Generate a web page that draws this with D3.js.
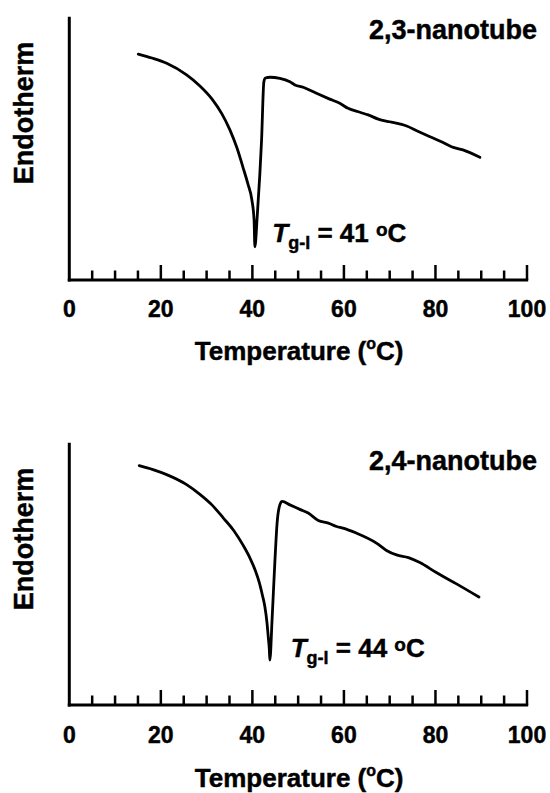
<!DOCTYPE html>
<html>
<head>
<meta charset="utf-8">
<script src="https://cdn.jsdelivr.net/npm/d3@7"></script>
<style>
  html, body { margin: 0; padding: 0; background: #fff; }
  svg { display: block; }
  text { font-family: "Liberation Sans", Arial, Helvetica, sans-serif; font-weight: bold; fill: #000; stroke: #000; stroke-width: 0.45px; }
</style>
</head>
<body>
<svg id="chart" width="550" height="793"></svg>
<script>
// ---- data ----
const temp23 = [15.07, 18.06, 21.27, 25.63, 28.54, 31.15, 33.34, 35.09, 36.62, 37.93, 39.02, 39.89, 40.37, 40.55, 41.05, 41.64, 42.01, 42.51, 42.84, 43.82, 46.0, 48.2, 49.3, 51.1, 54.0, 56.9, 59.1, 60.9, 63.5, 65.3, 67.5, 70.0, 72.6, 73.7, 75.9, 78.8, 81.3, 83.5, 86.0, 89.7];
const endo23 = [85.8, 84.3, 82.3, 77.9, 73.7, 68.8, 63.1, 57.0, 50.2, 42.9, 36.5, 30.4, 22.8, 12.6, 24.0, 40.5, 53.2, 75.3, 76.7, 77.0, 76.6, 75.3, 74.1, 73.2, 70.9, 68.7, 67.1, 65.2, 63.7, 62.7, 61.1, 60.1, 59.1, 58.5, 56.7, 54.4, 52.5, 50.6, 49.4, 46.6];

const temp24 = [15.28, 18.28, 21.27, 25.63, 28.54, 31.16, 33.62, 35.96, 37.93, 39.45, 40.66, 41.53, 42.18, 42.73, 43.17, 43.49, 43.71, 43.82, 44.3, 44.9, 45.4, 46.0, 46.5, 48.2, 50.5, 52.2, 54.4, 56.6, 58.4, 59.8, 62.7, 67.1, 69.3, 71.5, 74.1, 76.6, 80.2, 84.6, 89.5];
const endo24 = [90.9, 89.4, 87.5, 83.7, 80.0, 76.0, 71.1, 66.2, 60.8, 55.9, 51.0, 46.4, 41.8, 37.3, 31.6, 25.5, 20.9, 17.1, 32.3, 53.9, 69.1, 76.0, 77.3, 76.0, 74.2, 72.9, 70.1, 69.1, 67.8, 67.2, 65.3, 61.5, 58.7, 57.0, 56.0, 54.1, 50.3, 46.0, 41.0];

const minorTicks = d3.range(5, 101, 5);
const majorTicks = [20, 40, 60, 80, 100];
const tickLabels = [0, 20, 40, 60, 80, 100];
const panelTitles = ["2,3-nanotube", "2,4-nanotube"];
const transitionTemps = ["41", "44"];
const xTitle = "Temperature";
const yTitle = "Endotherm";

// ---- layout ----
const svg = d3.select("#chart");
const x = d3.scaleLinear().domain([0, 100]).range([69.3, 527]);

const panels = [
  { axisY: 280, topY: 16.7, temps: temp23, endo: endo23, title: panelTitles[0], tg: transitionTemps[0],
    titleY: 39.3, yLabelY: 113, annX: 272.3, annY: 242.3, tickY: 316.7, xTitleY: 360 },
  { axisY: 705, topY: 442.7, temps: temp24, endo: endo24, title: panelTitles[1], tg: transitionTemps[1],
    titleY: 470, yLabelY: 539, annX: 290.7, annY: 656.7, tickY: 743.3, xTitleY: 786.7 }
];

panels.forEach(p => {
  const y = d3.scaleLinear().domain([0, 100]).range([p.axisY, p.axisY - 263.3]);
  const g = svg.append("g");

  // curve
  const line = d3.line()
    .x((d, i) => x(p.temps[i]))
    .y(d => y(d))
    .curve(d3.curveMonotoneX);
  g.append("path")
    .datum(p.endo)
    .attr("d", line)
    .attr("fill", "none")
    .attr("stroke", "#000")
    .attr("stroke-width", 2.8)
    .attr("stroke-linejoin", "round")
    .attr("stroke-linecap", "round");

  // ticks (pointing up, inside)
  g.selectAll("line.tick")
    .data(minorTicks)
    .join("line")
    .attr("x1", d => x(d)).attr("x2", d => x(d))
    .attr("y1", p.axisY)
    .attr("y2", d => p.axisY - (majorTicks.includes(d) ? 15 : 9.5))
    .attr("stroke", "#000")
    .attr("stroke-width", 2.5);

  // axes
  g.append("line")
    .attr("x1", x(0)).attr("x2", x(0))
    .attr("y1", p.topY).attr("y2", p.axisY + 1.5)
    .attr("stroke", "#000").attr("stroke-width", 3);
  g.append("line")
    .attr("x1", x(0) - 1.5).attr("x2", x(100) + 1.2)
    .attr("y1", p.axisY).attr("y2", p.axisY)
    .attr("stroke", "#000").attr("stroke-width", 3);

  // tick labels
  g.selectAll("text.tl")
    .data(tickLabels)
    .join("text")
    .attr("x", d => x(d))
    .attr("y", p.tickY)
    .attr("text-anchor", "middle")
    .style("font-size", "23px")
    .text(d => d);

  // x title
  const xt = g.append("text")
    .attr("x", (x(0) + x(100)) / 2 + 1)
    .attr("y", p.xTitleY)
    .attr("text-anchor", "middle")
    .style("font-size", "26px");
  xt.append("tspan").text(xTitle + " (");
  xt.append("tspan").text("o").style("font-size", "16px").attr("dy", -11);
  xt.append("tspan").text("C)").attr("dy", 11);

  // y title
  g.append("text")
    .attr("transform", `translate(33,${p.yLabelY}) rotate(-90)`)
    .attr("text-anchor", "middle")
    .style("font-size", "27px")
    .text(yTitle);

  // panel title
  g.append("text")
    .attr("x", 537)
    .attr("y", p.titleY)
    .attr("text-anchor", "end")
    .style("font-size", "27px")
    .text(p.title);

  // annotation
  const an = g.append("text")
    .attr("x", p.annX)
    .attr("y", p.annY)
    .style("font-size", "26px");
  an.append("tspan").text("T").style("font-style", "italic");
  an.append("tspan").text("g-l").style("font-size", "18px").attr("dy", 7);
  an.append("tspan").text(" = " + p.tg + " ").attr("dy", -7);
  an.append("tspan").text("o").style("font-size", "19px").attr("dy", -6);
  an.append("tspan").text("C").attr("dy", 6);
});
</script>
</body>
</html>
